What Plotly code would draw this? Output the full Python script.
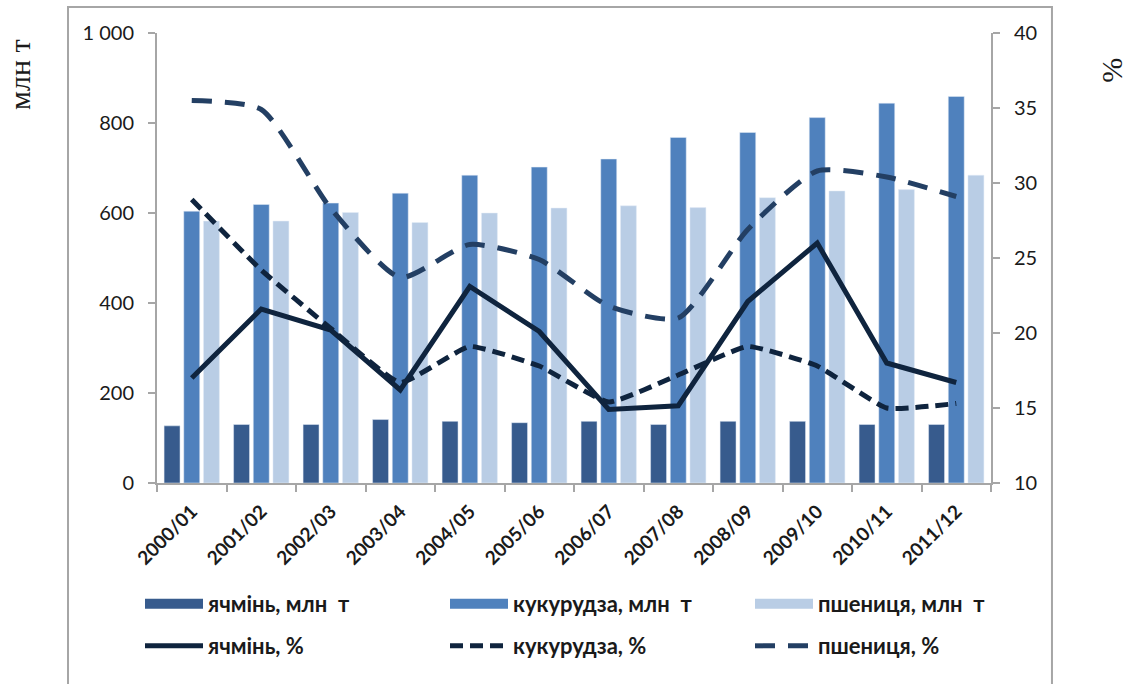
import plotly.graph_objects as go

years = ["2000/01", "2001/02", "2002/03", "2003/04", "2004/05", "2005/06",
         "2006/07", "2007/08", "2008/09", "2009/10", "2010/11", "2011/12"]

barley_mt = [127, 130, 130, 141, 137, 134, 137, 130, 137, 137, 130, 130]
corn_mt = [604, 619, 622, 644, 684, 702, 720, 768, 779, 812, 844, 859]
wheat_mt = [582, 582, 601, 579, 600, 611, 616, 612, 634, 649, 652, 684]

barley_pct = [17.0, 21.6, 20.2, 16.2, 23.1, 20.1, 14.9, 15.15, 22.1, 26.0, 18.0, 16.7]
corn_pct = [28.9, 24.2, 20.3, 16.7, 19.1, 17.8, 15.4, 17.2, 19.1, 17.8, 15.0, 15.3]
wheat_pct = [35.5, 34.9, 28.3, 23.7, 25.9, 24.9, 21.8, 21.0, 26.9, 30.8, 30.4, 29.1]

left_ticks = [0, 200, 400, 600, 800, 1000]
left_ticktext = ["0", "200", "400", "600", "800", "1 000"]
right_ticks = [10, 15, 20, 25, 30, 35, 40]

C_BARLEY = "#375B8D"
C_CORN = "#4F81BD"
C_WHEAT = "#B9CDE5"
C_LINE1 = "#0F243E"
C_LINE3 = "#233F63"
GRID = "#A6A6A6"
TXT = "#1a1a1a"
FONT = "Lato, Open Sans, sans-serif"

CORN_DASH = "13px,7px"
WHEAT_DASH = "20px,13px"
LW = 5

fig = go.Figure()
# bars (legend shown through proxy entries with a wide swatch)
fig.add_trace(go.Bar(x=years, y=barley_mt, name="ячмінь, млн  т", marker_color=C_BARLEY,
                     showlegend=False))
fig.add_trace(go.Bar(x=years, y=corn_mt, name="кукурудза, млн  т", marker_color=C_CORN,
                     showlegend=False))
fig.add_trace(go.Bar(x=years, y=wheat_mt, name="пшениця, млн  т", marker_color=C_WHEAT,
                     showlegend=False))
for name, col, lg in [("ячмінь, млн  т", C_BARLEY, "legend"),
                      ("кукурудза, млн  т", C_CORN, "legend2"),
                      ("пшениця, млн  т", C_WHEAT, "legend3")]:
    fig.add_trace(go.Scatter(x=[None], y=[None], mode="lines", name=name,
                             line=dict(color=col, width=10), legend=lg, hoverinfo="skip"))

fig.add_trace(go.Scatter(x=years, y=barley_pct, name="ячмінь, %", mode="lines",
                         line=dict(color=C_LINE1, width=LW), yaxis="y2", legend="legend4"))
fig.add_trace(go.Scatter(x=years, y=corn_pct, name="кукурудза, %", mode="lines",
                         line=dict(color=C_LINE1, width=LW, dash=CORN_DASH, shape="spline",
                                   smoothing=0.4),
                         yaxis="y2", legend="legend5"))
fig.add_trace(go.Scatter(x=years, y=wheat_pct, name="пшениця, %", mode="lines",
                         line=dict(color=C_LINE3, width=LW, dash=WHEAT_DASH, shape="spline",
                                   smoothing=0.6),
                         yaxis="y2", legend="legend6"))

tickfont = dict(family=FONT, size=20, color=TXT)
legfont = dict(family=FONT, size=22, color=TXT, weight="bold")

def leg(xpx, ypx):
    return dict(orientation="h", xref="container", yref="container",
                x=xpx / 1130, y=1 - ypx / 684, xanchor="left", yanchor="middle",
                font=legfont, itemwidth=58, bgcolor="rgba(0,0,0,0)")

LX = [140, 445, 750]
LY = [604, 646]

fig.update_layout(
    width=1130, height=684,
    margin=dict(l=157, r=139, t=33, b=201, autoexpand=False),
    paper_bgcolor="white", plot_bgcolor="white",
    barmode="group", bargap=0.15, bargroupgap=0.19,
    xaxis=dict(
        type="category", showgrid=False, showline=True, linecolor=GRID, linewidth=2,
        ticks="outside", tickson="boundaries", ticklen=7, tickcolor=GRID, tickwidth=2,
        tickangle=-45, automargin=False, ticklabelstandoff=8,
        tickfont=dict(family=FONT, size=19, color=TXT, weight="bold"),
    ),
    yaxis=dict(
        range=[0, 1000], tickvals=left_ticks, ticktext=left_ticktext,
        showgrid=False, showline=True, linecolor=GRID, linewidth=2,
        ticks="outside", ticklen=7, tickcolor=GRID, tickwidth=2, tickfont=tickfont,
        zeroline=False, automargin=False, ticklabelstandoff=10,
    ),
    yaxis2=dict(
        range=[10, 40], tickvals=right_ticks, overlaying="y", side="right",
        showgrid=False, showline=True, linecolor=GRID, linewidth=2,
        ticks="outside", ticklen=7, tickcolor=GRID, tickwidth=2, tickfont=tickfont,
        zeroline=False, automargin=False, ticklabelstandoff=10,
    ),
    legend=leg(LX[0], LY[0]),
    legend2=leg(LX[1], LY[0]),
    legend3=leg(LX[2], LY[0]),
    legend4=leg(LX[0], LY[1]),
    legend5=leg(LX[1], LY[1]),
    legend6=leg(LX[2], LY[1]),
    showlegend=True,
)

fig.add_shape(type="rect", xref="paper", yref="paper",
              x0=-0.1067, x1=1.0731, y0=-0.5, y1=1.0578,
              line=dict(color=GRID, width=2), fillcolor="rgba(0,0,0,0)", layer="below")

fig.add_annotation(text="млн т", xref="paper", yref="paper", x=-0.164, y=0.907,
                   xanchor="center", yanchor="middle",
                   textangle=-90, showarrow=False,
                   font=dict(family="Liberation Serif, serif", size=30, color=TXT))
fig.add_annotation(text="%", xref="paper", yref="paper", x=1.145, y=0.918,
                   xanchor="center", yanchor="middle",
                   textangle=-90, showarrow=False,
                   font=dict(family="Liberation Serif, serif", size=30, color=TXT))

fig.write_html("out.html", config={"displayModeBar": False},
               post_script="document.body.style.margin='0';")
